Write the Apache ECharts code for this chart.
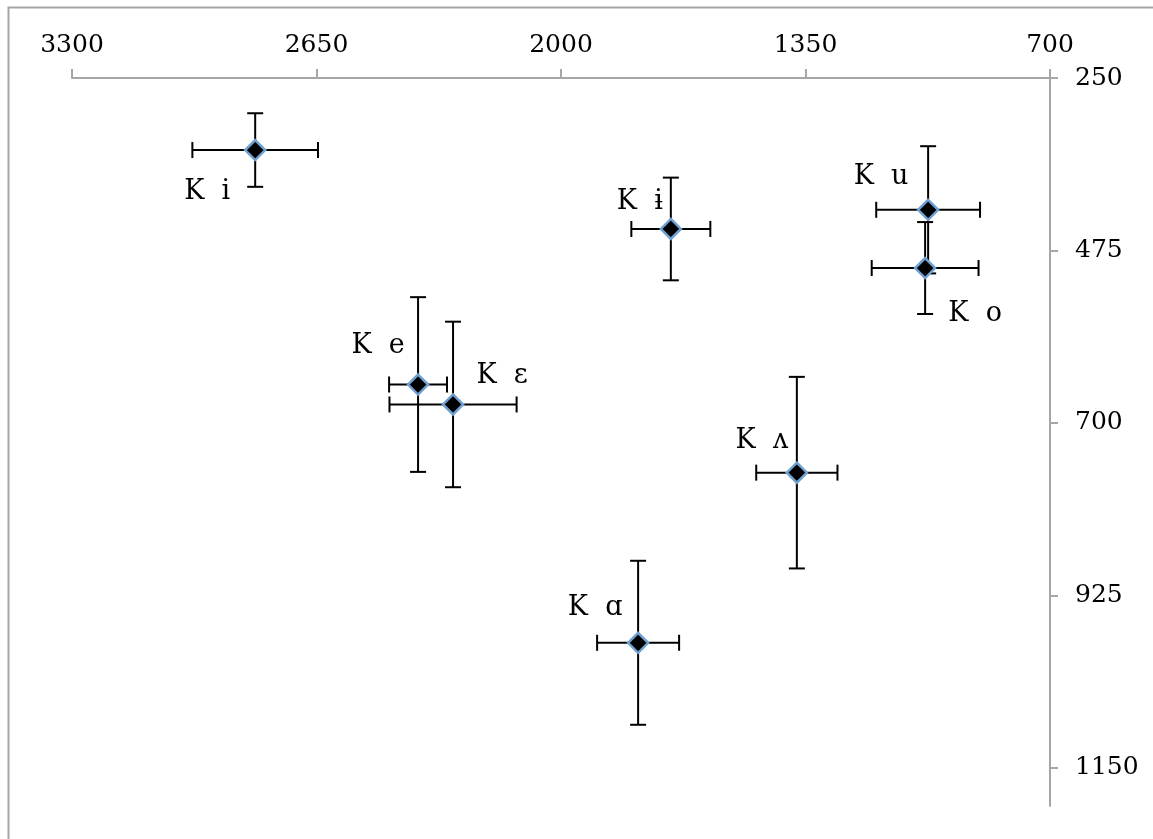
<!DOCTYPE html>
<html>
<head>
<meta charset="utf-8">
<script src="https://cdn.jsdelivr.net/npm/echarts@6/dist/echarts.min.js"></script>
<style>
html,body{margin:0;padding:0;background:#fff;}
#chart{width:1153px;height:839px;}
</style>
</head>
<body>
<div id="chart"></div>
<script>
// Data (F2 on x, F1 on y)
const vowelLabels = ['K  i', 'K  ɨ', 'K  u', 'K  o', 'K  e', 'K  ɛ', 'K  ʌ', 'K  ɑ'];
const f2Values = [2813, 1708, 1024, 1032, 2380, 2287, 1373, 1795];
const f1Values = [344, 447, 422, 498, 650, 676, 765, 987];
const f2Errors = [167, 105, 138, 142, 77, 169, 108, 109];
const f1Errors = [48, 67, 83, 60, 114, 108, 125, 107];
const xTickValues = [3300, 2650, 2000, 1350, 700];
const yTickValues = [250, 475, 700, 925, 1150];

// Layout only: label offsets in pixels relative to each marker
const labelOffsets = [[-48, 42], [-31, -27], [-47, -33], [50, 46], [-40, -39], [49, -28], [-35, -32], [-43, -35]];

const FONT = 'DejaVu Serif';
const axisColor = '#a6a6a6';

const errData = f2Values.map((v, i) => [v, f1Values[i], f2Errors[i], f1Errors[i]]);
const pointData = f2Values.map((v, i) => ({
  value: [v, f1Values[i]],
  name: vowelLabels[i],
  label: { offset: labelOffsets[i] }
}));

const plain = v => String(v);

const chart = echarts.init(document.getElementById('chart'));
chart.setOption({
  animation: false,
  backgroundColor: '#fff',
  graphic: [{
    type: 'rect',
    left: 6, top: 5,
    shape: { width: 1170, height: 860 },
    style: { fill: 'none', stroke: axisColor, lineWidth: 2 },
    silent: true
  }],
  grid: { left: 72, right: 103, top: 78, bottom: 33, containLabel: false },
  xAxis: {
    type: 'value',
    position: 'top',
    inverse: true,
    min: 700, max: 3300,
    splitLine: { show: false },
    axisLine: { show: true, onZero: false, lineStyle: { color: axisColor, width: 2 } },
    axisTick: { show: true, customValues: xTickValues, length: 9, lineStyle: { color: axisColor, width: 2 } },
    axisLabel: { customValues: xTickValues, formatter: plain, fontFamily: FONT, fontSize: 25, color: '#000', margin: 20 }
  },
  yAxis: {
    type: 'value',
    position: 'right',
    inverse: true,
    min: 250, max: 1200,
    splitLine: { show: false },
    axisLine: { show: true, onZero: false, lineStyle: { color: axisColor, width: 2 } },
    axisTick: { show: true, customValues: yTickValues, length: 8, lineStyle: { color: axisColor, width: 2 } },
    axisLabel: { customValues: yTickValues, formatter: plain, fontFamily: FONT, fontSize: 25, color: '#000', margin: 25 }
  },
  series: [
    {
      type: 'custom',
      data: errData,
      encode: { x: 0, y: 1 },
      z: 2,
      silent: true,
      renderItem: function (params, api) {
        const x = api.value(0), y = api.value(1), ex = api.value(2), ey = api.value(3);
        const l = api.coord([x + ex, y]);
        const r = api.coord([x - ex, y]);
        const t = api.coord([x, y - ey]);
        const b = api.coord([x, y + ey]);
        const cap = 8;
        const st = { stroke: '#000', lineWidth: 2, fill: null };
        const line = (x1, y1, x2, y2) => ({ type: 'line', shape: { x1, y1, x2, y2 }, style: st });
        return {
          type: 'group',
          children: [
            line(l[0], l[1], r[0], r[1]),
            line(t[0], t[1], b[0], b[1]),
            line(l[0], l[1] - cap, l[0], l[1] + cap),
            line(r[0], r[1] - cap, r[0], r[1] + cap),
            line(t[0] - cap, t[1], t[0] + cap, t[1]),
            line(b[0] - cap, b[1], b[0] + cap, b[1])
          ]
        };
      }
    },
    {
      type: 'scatter',
      data: pointData,
      z: 5,
      symbol: 'diamond',
      symbolSize: 20,
      itemStyle: { color: '#000', borderColor: '#6fa0d2', borderWidth: 2.5, opacity: 1 },
      label: {
        show: true,
        position: 'inside',
        formatter: '{b}',
        color: '#000',
        fontFamily: FONT,
        fontSize: 27,
        textBorderWidth: 0
      },
      emphasis: { disabled: true }
    }
  ]
});
</script>
</body>
</html>
